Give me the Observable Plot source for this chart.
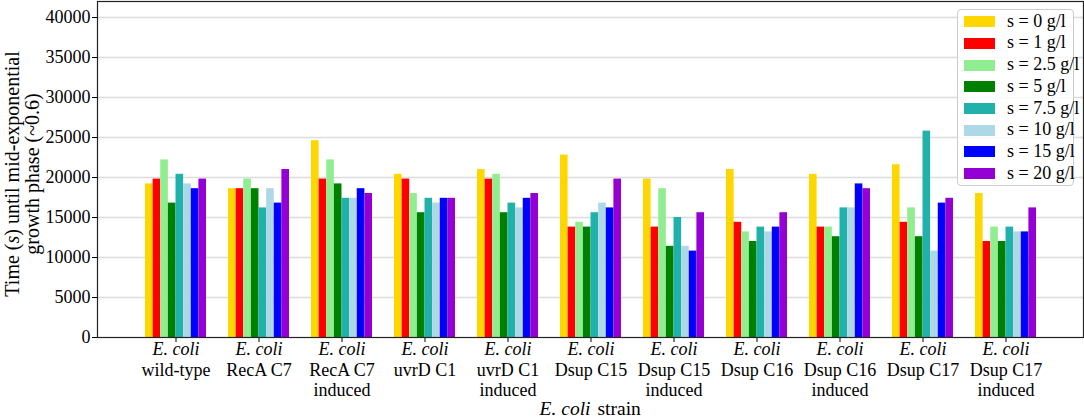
<!DOCTYPE html>
<html>
<head>
<meta charset="utf-8">
<script src="https://cdn.jsdelivr.net/npm/d3@7"></script>
<script src="https://cdn.jsdelivr.net/npm/@observablehq/plot@0.6"></script>
<style>
  html, body { margin: 0; padding: 0; background: white; }
  #wrap { position: relative; width: 1084px; height: 418px; font-family: "Liberation Serif", serif; }
  #legend { position: absolute; left: 957px; top: 9px; width: 117px; height: 177px; box-sizing: border-box;
    border: 1px solid #cccccc; border-radius: 4px; background: rgba(255,255,255,0.85); }
  .sw { position: absolute; left: 6px; width: 31px; height: 11px; }
  .lb { position: absolute; left: 49px; font-size: 18px; line-height: 18px; white-space: nowrap; color: #000; }
</style>
</head>
<body>
<div id="wrap"></div>
<script>
// Categories (strains)
const groups = ["wt", "recA", "recAi", "uvrD", "uvrDi", "c15", "c15i", "c16", "c16i", "c17", "c17i"];
const groupLabels = ["wild-type", "RecA C7", "RecA C7\ninduced", "uvrD C1", "uvrD C1\ninduced",
  "Dsup C15", "Dsup C15\ninduced", "Dsup C16", "Dsup C16\ninduced", "Dsup C17", "Dsup C17\ninduced"];
// Series (salt concentration)
const seriesLabels = ["s = 0 g/l", "s = 1 g/l", "s = 2.5 g/l", "s = 5 g/l", "s = 7.5 g/l", "s = 10 g/l", "s = 15 g/l", "s = 20 g/l"];
const seriesColors = ["#FFD700", "#FF0000", "#90EE90", "#008000", "#20B2AA", "#ADD8E6", "#0000FF", "#9400D3"];
// Values (seconds) per series, one per strain
const s0   = [19200, 18600, 24600, 20400, 21000, 22800, 19800, 21000, 20400, 21600, 18000];
const s1   = [19800, 18600, 19800, 19800, 19800, 13800, 13800, 14400, 13800, 14400, 12000];
const s2_5 = [22200, 19800, 22200, 18000, 20400, 14400, 18600, 13200, 13800, 16200, 13800];
const s5   = [16800, 18600, 19200, 15600, 15600, 13800, 11400, 12000, 12600, 12600, 12000];
const s7_5 = [20400, 16200, 17400, 17400, 16800, 15600, 15000, 13800, 16200, 25800, 13800];
const s10  = [19200, 18600, 17400, 16800, 16200, 16800, 11400, 13200, 16200, 10800, 13200];
const s15  = [18600, 16800, 18600, 17400, 17400, 16200, 10800, 13800, 19200, 16800, 13200];
const s20  = [19800, 21000, 18000, 17400, 18000, 19800, 15600, 15600, 18600, 17400, 16200];
const seriesValues = [s0, s1, s2_5, s5, s7_5, s10, s15, s20];
// Axis ticks
const yTicks = [0, 5000, 10000, 15000, 20000, 25000, 30000, 35000, 40000];

// Layout
const W = 1084, H = 418, mL = 97, mR = 1, mT = 1, mB = 81;
const padInner = 0.268, padOuter = 0.548;
const step = (W - mL - mR) / (groups.length - padInner + 2 * padOuter);
const bandwidth = step * (1 - padInner);
const bw = bandwidth / seriesValues.length;

const barMarks = seriesValues.map((vals, i) =>
  Plot.barY(groups.map((g, j) => ({g, v: vals[j]})), {
    x: "g", y: "v", fill: seriesColors[i],
    insetLeft: i * bw, insetRight: (seriesValues.length - 1 - i) * bw
  })
);

const plot = Plot.plot({
  width: W, height: H,
  marginLeft: mL, marginRight: mR, marginTop: mT, marginBottom: mB,
  style: {fontFamily: "Liberation Serif, serif", fontSize: "18px", color: "black", background: "white"},
  x: {type: "band", domain: groups, paddingInner: padInner, paddingOuter: padOuter,
      tickFormat: () => "", tickSize: 5, label: null},
  y: {domain: [0, 42000], ticks: yTicks, tickFormat: d => String(d), tickSize: 5, tickPadding: 2, label: null},
  marks: [
    Plot.ruleY(yTicks.slice(1), {stroke: "#dcdcdc", strokeWidth: 1.3}),
    ...barMarks,
    Plot.frame({stroke: "#222", strokeWidth: 1.2}),
    Plot.text(groups, {x: d => d, frameAnchor: "bottom", dy: 12, text: () => "E. coli",
      fontStyle: "italic", lineAnchor: "middle", fontSize: 18}),
    Plot.text(groups, {x: d => d, frameAnchor: "bottom", dy: 25, text: (d, i) => groupLabels[i],
      lineAnchor: "top", lineHeight: 1.083, fontSize: 18}),
    Plot.text(["E. coli"], {frameAnchor: "bottom", dx: 0, dy: 71, textAnchor: "end",
      fontStyle: "italic", lineAnchor: "middle", fontSize: 19.5}),
    Plot.text(["strain"], {frameAnchor: "bottom", dx: 7, dy: 71, textAnchor: "start",
      lineAnchor: "middle", fontSize: 19.5}),
    Plot.text(["Time (s) until mid-exponential\ngrowth phase (~0.6)"], {frameAnchor: "left", dx: -74.65, dy: 4.5,
      rotate: -90, textAnchor: "middle", lineAnchor: "middle", lineHeight: 0.975, fontSize: 20})
  ]
});

// italicize the "s" unit symbol in the y label
plot.querySelectorAll("text, tspan").forEach(t => {
  if (t.childElementCount === 0 && t.textContent === "Time (s) until mid-exponential") {
    t.textContent = "";
    const ns = "http://www.w3.org/2000/svg";
    const parts = [["Time (", null], ["s", "italic"], [") until mid-exponential", null]];
    parts.forEach(([str, style]) => {
      const sp = document.createElementNS(ns, "tspan");
      if (style) sp.setAttribute("font-style", style);
      sp.textContent = str;
      t.appendChild(sp);
    });
  }
});

const wrap = document.getElementById("wrap");
wrap.appendChild(plot);

const legend = document.createElement("div");
legend.id = "legend";
seriesLabels.forEach((lab, i) => {
  const cy = 11.7 + i * 21.7;
  const sw = document.createElement("div");
  sw.className = "sw";
  sw.style.top = (cy - 5.5) + "px";
  sw.style.background = seriesColors[i];
  const lb = document.createElement("div");
  lb.className = "lb";
  lb.style.top = (cy - 10) + "px";
  lb.textContent = lab;
  legend.appendChild(sw);
  legend.appendChild(lb);
});
wrap.appendChild(legend);
</script>
</body>
</html>
